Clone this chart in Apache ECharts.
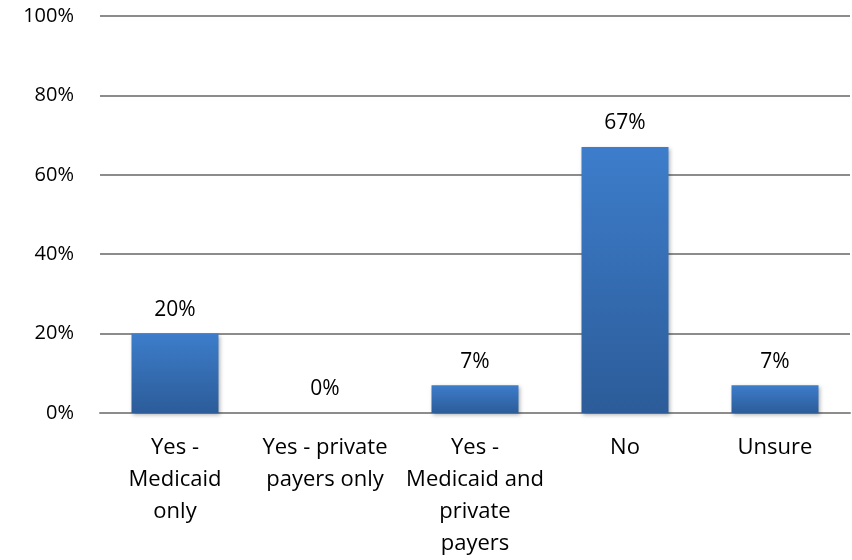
<!DOCTYPE html>
<html>
<head>
<meta charset="utf-8">
<script src="https://cdn.jsdelivr.net/npm/echarts@6/dist/echarts.min.js"></script>
<style>
  html, body { margin: 0; padding: 0; background: #fff; }
  #chart { width: 852px; height: 560px; }
</style>
</head>
<body>
<div id="chart"></div>
<script>
  var categories = ['Yes -\nMedicaid\nonly', 'Yes - private\npayers only', 'Yes -\nMedicaid and\nprivate\npayers', 'No', 'Unsure']
  var values = [20, 0, 7, 67, 7]
  var yTicks = [0, 20, 40, 60, 80, 100]

  var font = '"Open Sans", sans-serif'
  var chart = echarts.init(document.getElementById('chart'), null, { renderer: 'canvas' })

  var option = {
    animation: false,
    grid: {
      left: 100,
      right: 2,
      top: 16,
      bottom: 147,
      containLabel: false
    },
    xAxis: {
      type: 'category',
      data: categories,
      axisTick: { show: false },
      axisLine: { show: true, lineStyle: { color: '#8c8c8c', width: 2 } },
      axisLabel: {
        color: '#000',
        fontSize: 22,
        fontFamily: font,
        lineHeight: 32,
        margin: 19,
        interval: 0
      }
    },
    yAxis: {
      type: 'value',
      min: yTicks[0],
      max: yTicks[yTicks.length - 1],
      interval: 20,
      axisLine: { show: false },
      axisTick: { show: false },
      splitLine: { lineStyle: { color: '#8c8c8c', width: 2 } },
      axisLabel: {
        color: '#000',
        fontSize: 20,
        fontFamily: font,
        margin: 26,
        formatter: '{value}%'
      }
    },
    series: [{
      type: 'bar',
      data: values,
      barWidth: '58%',
      itemStyle: {
        color: new echarts.graphic.LinearGradient(0, 0, 0, 1, [
          { offset: 0, color: '#3d7dcb' },
          { offset: 1, color: '#2c5c99' }
        ]),
        shadowColor: 'rgba(0,0,0,0.3)',
        shadowBlur: 4,
        shadowOffsetX: 1,
        shadowOffsetY: 2
      },
      label: {
        show: true,
        position: 'top',
        distance: 13,
        color: '#000',
        fontSize: 21,
        fontFamily: font,
        formatter: '{c}%'
      }
    }]
  }
  chart.setOption(option)
</script>
</body>
</html>
